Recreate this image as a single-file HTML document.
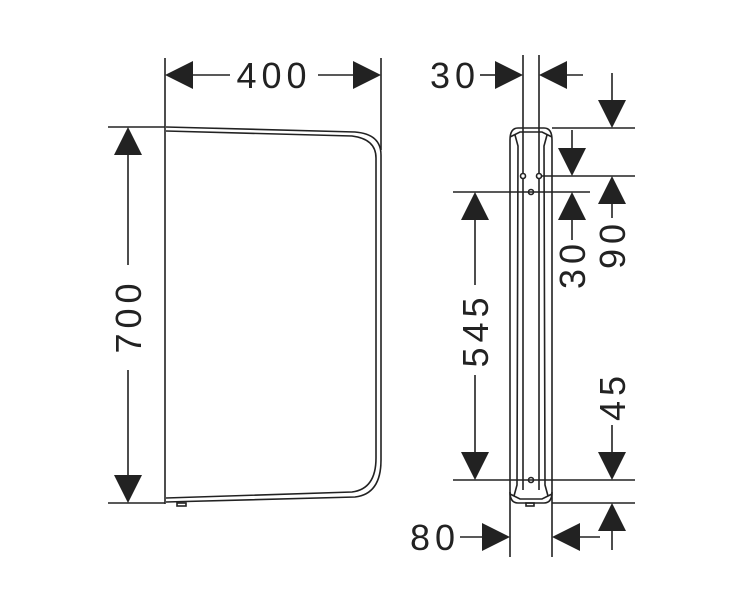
<!DOCTYPE html>
<html><head><style>
html,body{margin:0;padding:0;background:#fff;}
svg{display:block;}
text{font-family:"Liberation Sans",sans-serif;font-size:36px;fill:#222;letter-spacing:5px;}
</style></head><body>
<svg width="747" height="600" viewBox="0 0 747 600" xmlns="http://www.w3.org/2000/svg">
<defs>
<polygon id="ad" points="-14,-28 14,-28 0,0" fill="#222"/>
</defs>
<g stroke="#222" stroke-width="1.6" fill="none">
<!-- front view -->
<line x1="165" y1="58" x2="165" y2="504"/>
<line x1="381" y1="58" x2="381" y2="150"/>
<path d="M166,127 L355,132 Q381,134 381,155 L381,460 Q381,494 355,497 L166,502"/>
<path d="M166,131 L352,136 Q376,139 376,158 L376,458 Q376,489 352,492 L166,498"/>
<rect x="177" y="503" width="9" height="3"/>
<line x1="108" y1="127" x2="165" y2="127"/>
<line x1="108" y1="503" x2="165" y2="503"/>
<line x1="128" y1="150" x2="128" y2="265"/>
<line x1="128" y1="370" x2="128" y2="480"/>
<line x1="190" y1="75" x2="230" y2="75"/>
<line x1="318" y1="75" x2="356" y2="75"/>
<!-- side view -->
<line x1="510" y1="140" x2="510" y2="557"/>
<line x1="552" y1="140" x2="552" y2="557"/>
<path d="M510,140 Q510,128 518,128 L544,128 Q552,128 552,140"/>
<path d="M510,492 Q510,503 518,503 L544,503 Q552,503 552,492"/>
<line x1="523" y1="55" x2="523" y2="490"/>
<line x1="539" y1="55" x2="539" y2="490"/>
<path d="M515,135 L518,146 L517,485 L514,496"/>
<path d="M547,135 L544,146 L545,485 L548,496"/>
<path d="M510,137 L520,132 L542,132 L552,137"/>
<path d="M510,494 L520,499 L542,499 L552,494"/>
<rect x="526" y="503" width="8" height="3"/>
<circle cx="523" cy="176" r="2.5" fill="#fff"/>
<circle cx="539" cy="176" r="2.5" fill="#fff"/>
<circle cx="531" cy="192" r="2.5" fill="#fff"/>
<circle cx="531" cy="480" r="2.5" fill="#fff"/>
<line x1="552" y1="128" x2="635" y2="128"/>
<line x1="542" y1="176" x2="635" y2="176"/>
<line x1="453" y1="192" x2="590" y2="192"/>
<line x1="453" y1="480" x2="635" y2="480"/>
<line x1="552" y1="503" x2="635" y2="503"/>
<line x1="480" y1="75" x2="496" y2="75"/>
<line x1="566" y1="75" x2="583" y2="75"/>
<line x1="612" y1="73" x2="612" y2="100"/>
<line x1="572" y1="130" x2="572" y2="148"/>
<line x1="612" y1="204" x2="612" y2="218"/>
<line x1="572" y1="220" x2="572" y2="240"/>
<line x1="475" y1="220" x2="475" y2="285"/>
<line x1="475" y1="375" x2="475" y2="452"/>
<line x1="612" y1="425" x2="612" y2="452"/>
<line x1="612" y1="531" x2="612" y2="550"/>
<line x1="460" y1="537" x2="482" y2="537"/>
<line x1="580" y1="537" x2="600" y2="537"/>
</g>
<g>
<!-- front arrows -->
<use href="#ad" transform="translate(165,75) rotate(90)"/>
<use href="#ad" transform="translate(381,75) rotate(-90)"/>
<use href="#ad" transform="translate(128,127) rotate(180)"/>
<use href="#ad" transform="translate(128,503)"/>
<!-- side arrows -->
<use href="#ad" transform="translate(523,75) rotate(-90)"/>
<use href="#ad" transform="translate(539,75) rotate(90)"/>
<use href="#ad" transform="translate(612,128)"/>
<use href="#ad" transform="translate(572,176)"/>
<use href="#ad" transform="translate(612,176) rotate(180)"/>
<use href="#ad" transform="translate(572,192) rotate(180)"/>
<use href="#ad" transform="translate(475,192) rotate(180)"/>
<use href="#ad" transform="translate(475,480)"/>
<use href="#ad" transform="translate(612,480)"/>
<use href="#ad" transform="translate(612,503) rotate(180)"/>
<use href="#ad" transform="translate(510,537) rotate(-90)"/>
<use href="#ad" transform="translate(552,537) rotate(90)"/>
</g>
<text x="274" y="88" text-anchor="middle">400</text>
<text x="455" y="88" text-anchor="middle">30</text>
<text x="435" y="550" text-anchor="middle">80</text>
<text transform="translate(141,316) rotate(-90)" text-anchor="middle">700</text>
<text transform="translate(488,330) rotate(-90)" text-anchor="middle">545</text>
<text transform="translate(625,244) rotate(-90)" text-anchor="middle">90</text>
<text transform="translate(585,264) rotate(-90)" text-anchor="middle">30</text>
<text transform="translate(625,396) rotate(-90)" text-anchor="middle">45</text>
</svg>
</body></html>
